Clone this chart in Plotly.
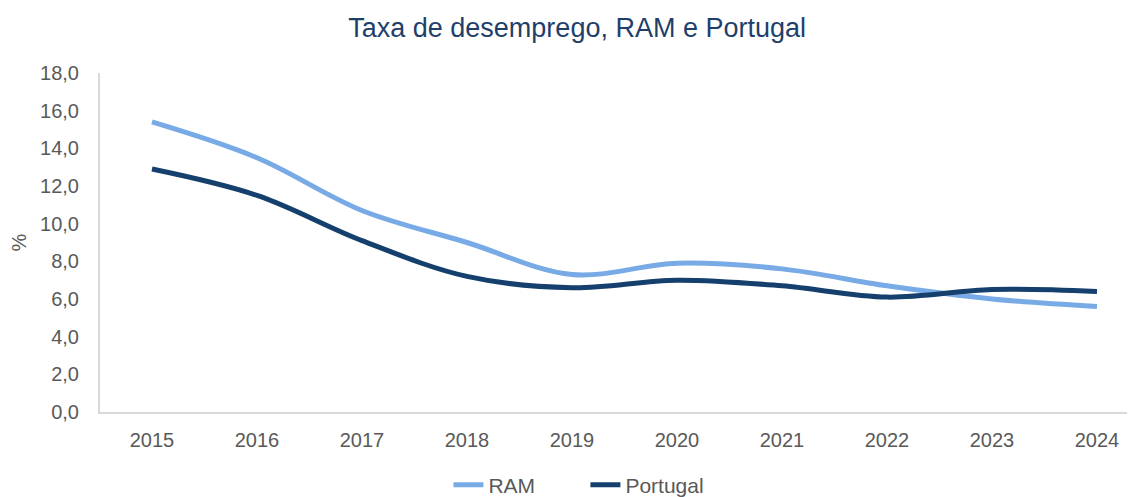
import plotly.graph_objects as go

years = ["2015", "2016", "2017", "2018", "2019", "2020", "2021", "2022", "2023", "2024"]
ram = [15.4, 13.5, 10.7, 9.0, 7.3, 7.9, 7.6, 6.7, 6.0, 5.6]
portugal = [12.9, 11.5, 9.1, 7.2, 6.6, 7.0, 6.7, 6.1, 6.5, 6.4]
yticks = [0, 2, 4, 6, 8, 10, 12, 14, 16, 18]

xi = list(range(len(years)))

fig = go.Figure()
fig.add_trace(go.Scatter(x=xi, y=ram, name="RAM", mode="lines",
                         line=dict(color="#78ABE5", width=5, shape="spline", smoothing=1.0)))
fig.add_trace(go.Scatter(x=xi, y=portugal, name="Portugal", mode="lines",
                         line=dict(color="#153F6C", width=5, shape="spline", smoothing=1.0)))

fig.update_layout(
    width=1127, height=489,
    margin=dict(l=92, r=0, t=65, b=85, autoexpand=False),
    paper_bgcolor="white", plot_bgcolor="white",
    separators=", ",
    font=dict(family="Liberation Sans, Arial, sans-serif", size=20, color="#595959"),
    title=dict(text="Taxa de desemprego, RAM e Portugal", x=0.505, xanchor="center",
               y=0.961, yanchor="middle",
               font=dict(size=27, color="#1F3F6B")),
    showlegend=True,
    legend=dict(orientation="h", x=0.469, xanchor="center", y=-0.155, yanchor="top",
                font=dict(size=21, color="#595959"), tracegroupgap=0,
                entrywidth=92, entrywidthmode="pixels"),
    xaxis=dict(range=[-0.495, 9.362], tickmode="array", tickvals=xi, ticktext=years,
               showgrid=False, zeroline=False, showline=True, linecolor="#D9D9D9", linewidth=2,
               ticks="outside", ticklen=9, tickcolor="rgba(0,0,0,0)", fixedrange=True),
    yaxis=dict(range=[0, 18], tickmode="array", tickvals=yticks, tickformat=".1f",
               showgrid=False, zeroline=False, showline=True, linecolor="#D9D9D9", linewidth=2,
               ticks="outside", ticklen=15, tickcolor="rgba(0,0,0,0)",
               title=dict(text="%", standoff=10, font=dict(size=20, color="#595959")),
               fixedrange=True),
)

fig.write_html("out.html")
